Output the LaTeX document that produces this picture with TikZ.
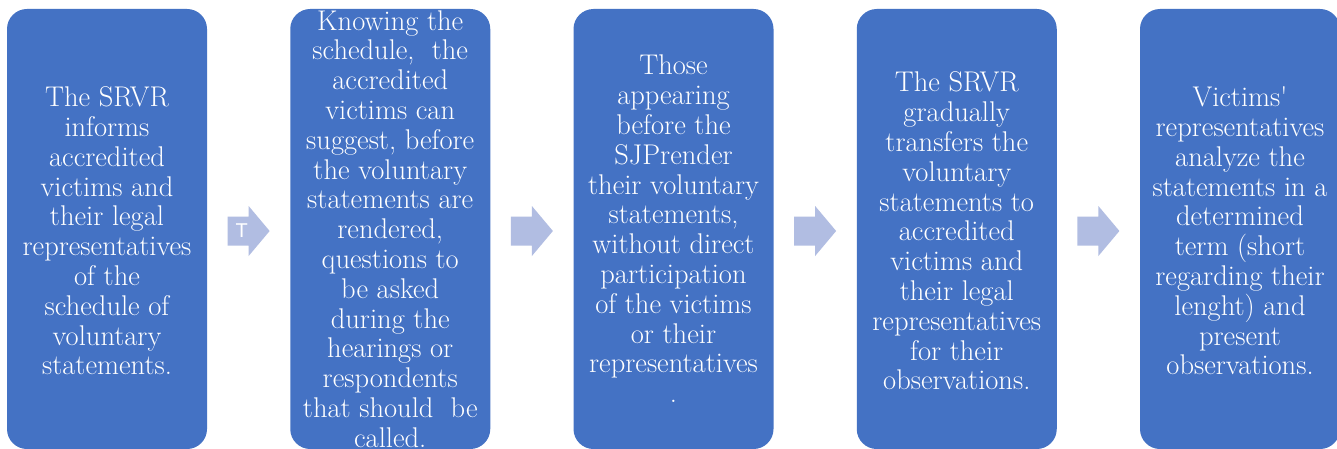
\documentclass[tikz,border=0pt]{standalone}
\usepackage{fontspec}
\newfontfamily\arrowfont{Liberation Sans}
\usetikzlibrary{calc}
\definecolor{stepblue}{HTML}{4472C4}
\definecolor{arrowblue}{RGB}{177,189,226}
\tikzset{
    stepbox/.style={fill=stepblue, rounded corners=20pt, minimum width=200pt, minimum height=440pt, inner sep=0pt},
    steptext/.style={text=white, align=center, inner sep=0pt, font=\fontsize{28.5}{29.8}\selectfont},
    blockarrow/.pic={
        \fill[arrowblue] (-21,-14.5) -- (0,-14.5) -- (0,-25) -- (21,0) -- (0,25) -- (0,14.5) -- (-21,14.5) -- cycle;
    }
}
\begin{document}
\begin{tikzpicture}[x=1pt, y=-1pt]
    \clip (0,0) rectangle (1337,449);
    \fill[white] (0,0) rectangle (1337,449);

    % boxes
    \foreach \i in {1,...,5} {
        \node[stepbox] (s\i) at ({107+283.25*(\i-1)}, 229) {};
    }

    % arrows
    \foreach \i [evaluate=\i as \j using int(\i+1)] in {1,...,4} {
        \coordinate (m\i) at ($(s\i.east)!0.5!(s\j.west)+(0,2)$);
        \pic at (m\i) {blockarrow};
    }
    \node[text=white, font=\arrowfont\fontsize{20}{20}\selectfont, inner sep=0pt] (mark) at ($(m1)+(-7,0)$) {T};

    % texts
    \node[steptext] (t1) at ($(s1.center)+(0,2)$) {The SRVR\\ informs\\ accredited\\ victims and\\ their legal\\ representatives\\ of the\\ schedule of\\ voluntary\\ statements.};
    \node[steptext] (t2) at ($(s2.center)+(0,0)$) {Knowing the\\ schedule,\ \ the\\ accredited\\ victims can\\ suggest, before\\ the voluntary\\ statements are\\ rendered,\\ questions to\\ be asked\\ during the\\ hearings or\\ respondents\\ that should\ \ be\\ called.};
    \node[steptext] (t3) at ($(s3.center)+(0,0)$) {Those\\ appearing\\ before the\\ SJPrender\\ their voluntary\\ statements,\\ without direct\\ participation\\ of the victims\\ or their\\ representatives\\ .};
    \node[steptext] (t4) at ($(s4.center)+(0,2)$) {The SRVR\\ gradually\\ transfers the\\ voluntary\\ statements to\\ accredited\\ victims and\\ their legal\\ representatives\\ for their\\ observations.};
    \node[steptext] (t5) at ($(s5.center)+(0,2)$) {Victims\textquotesingle\\ representatives\\ analyze the\\ statements in a\\ determined\\ term (short\\ regarding their\\ lenght) and\\ present\\ observations.};
\end{tikzpicture}
\end{document}
